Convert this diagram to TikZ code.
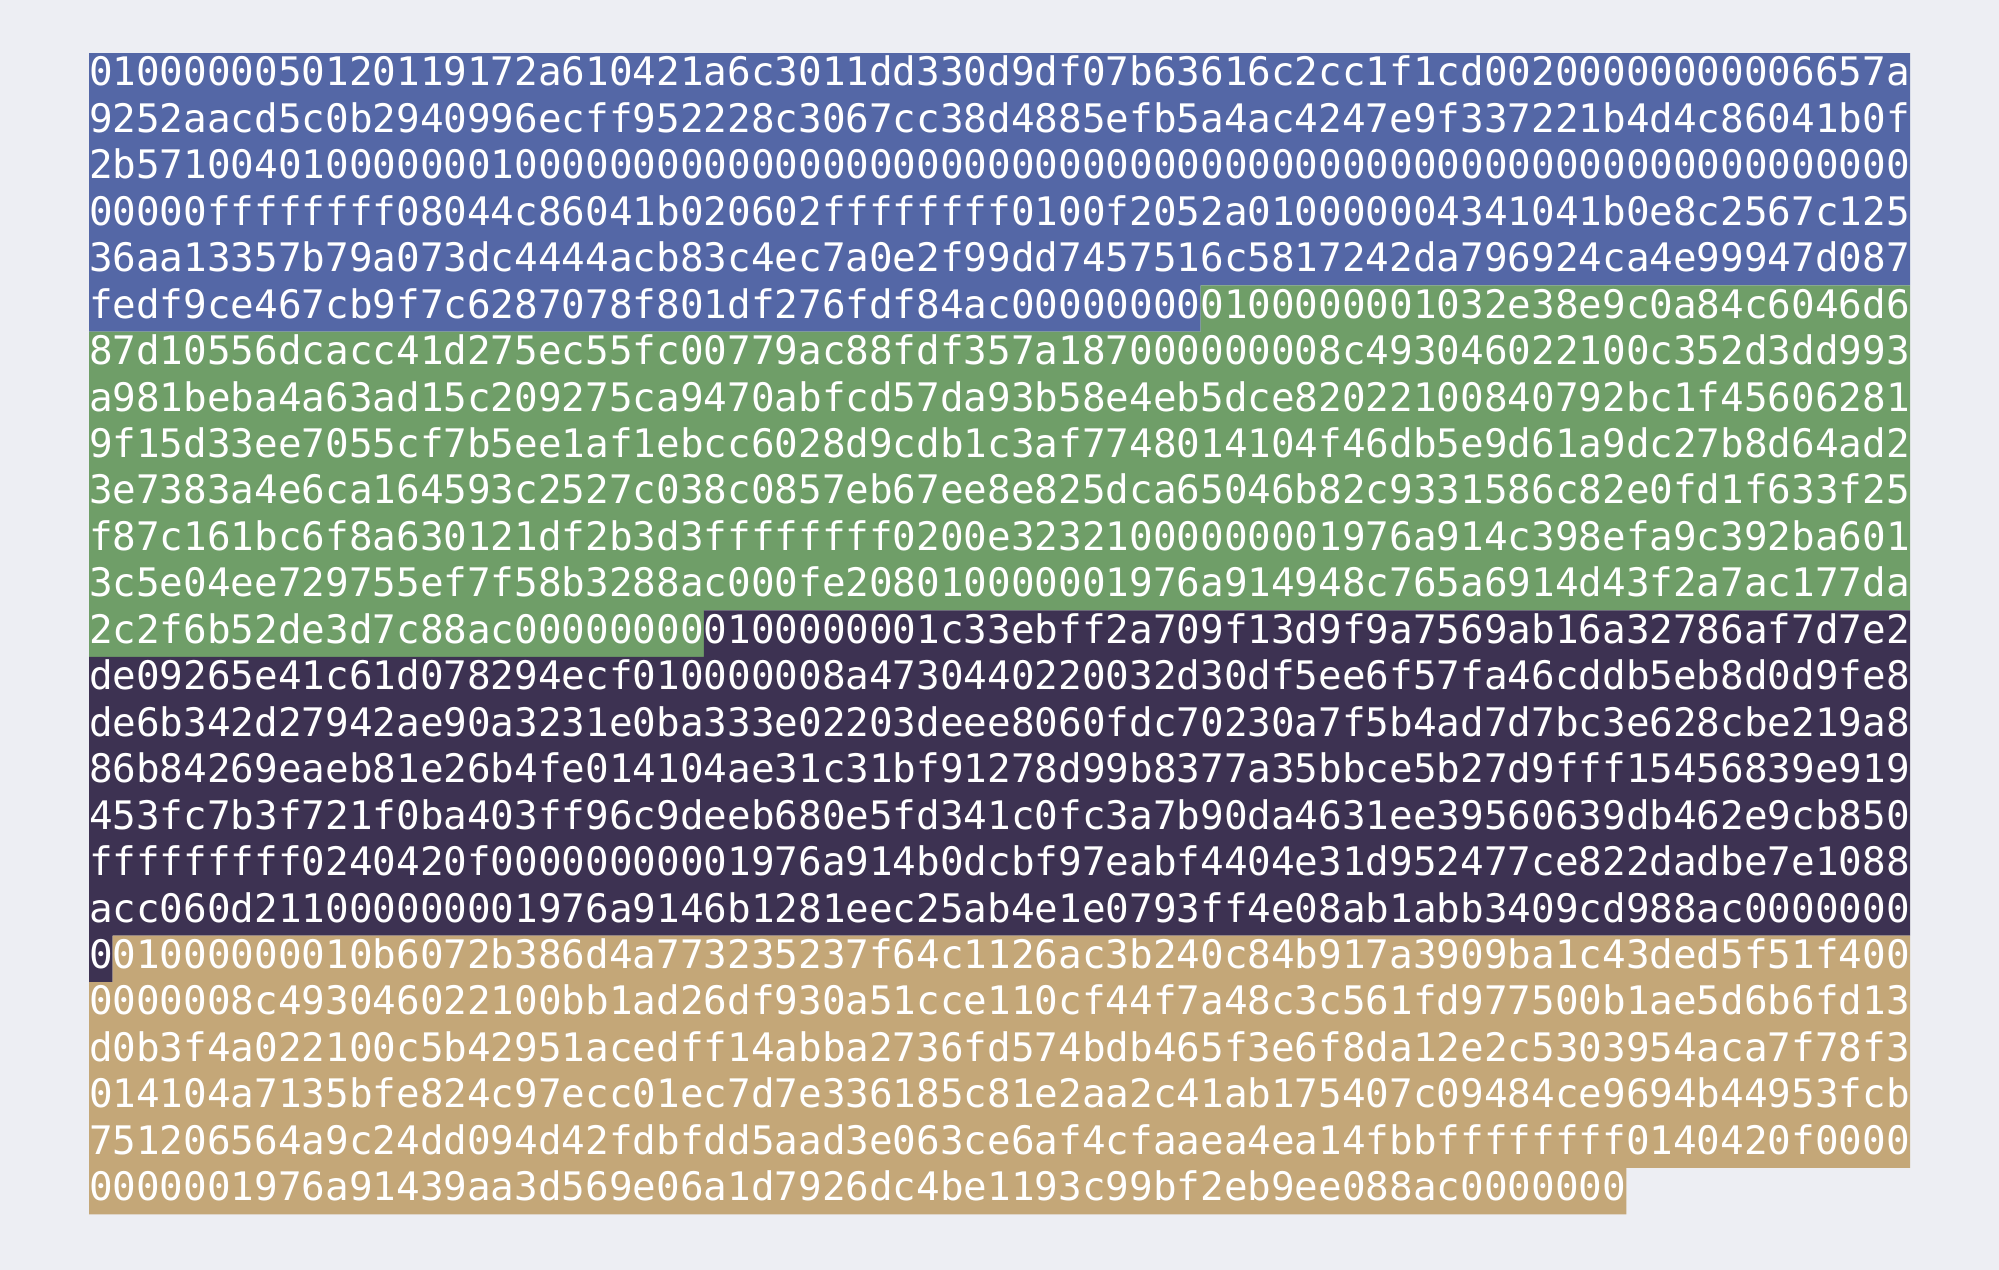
\documentclass[tikz,border=0pt]{standalone}
\usepackage{fontspec}
\newfontfamily\hexfam{DejaVu Sans Mono}
\definecolor{bgc}{HTML}{EDEEF3}
\definecolor{txa}{HTML}{5467A6}
\definecolor{txb}{HTML}{6F9E68}
\definecolor{txc}{HTML}{3D3252}
\definecolor{txd}{HTML}{C4A778}
\tikzset{
  hexline/.style={text=white, font={\hexfam\fontsize{19.64pt}{24pt}\selectfont}, inner sep=0pt, outer sep=0pt, anchor=base west},
}
\begin{document}
\begin{tikzpicture}[x=0.5pt,y=-0.5pt]
\useasboundingbox (0,0) rectangle (1999,1270);
\fill[bgc] (0,0) rectangle (1999,1270);
% band i: top = 53 + 46.45 (i-1); x(n) = 89 + 23.65 n
% tx1 blue
\fill[txa] (89,53) -- (1910.05,53) -- (1910.05,285.25) -- (1200.55,285.25) -- (1200.55,331.7) -- (89,331.7) -- cycle;
% tx2 green
\fill[txb] (1200.55,285.25) -- (1910.05,285.25) -- (1910.05,610.4) -- (703.9,610.4) -- (703.9,656.85) -- (89,656.85) -- (89,331.7) -- (1200.55,331.7) -- cycle;
% tx3 purple
\fill[txc] (703.9,610.4) -- (1910.05,610.4) -- (1910.05,935.55) -- (112.65,935.55) -- (112.65,982) -- (89,982) -- (89,656.85) -- (703.9,656.85) -- cycle;
% tx4 tan
\fill[txd] (112.65,935.55) -- (1910.05,935.55) -- (1910.05,1167.8) -- (1626.25,1167.8) -- (1626.25,1214.25) -- (89,1214.25) -- (89,982) -- (112.65,982) -- cycle;

\node[hexline] (l1) at (89,85.9) {01000000%
50120119172a610421a6c3011dd330d9df07b63616c2cc1f1cd002%
0000000000%
6657a};
\node[hexline] (l2) at (89,132.35) {9252aacd5c0b2940996ecff952228c3067cc38d4885efb5a4ac4247e9f3%
37221b4d%
4c86041b%
0f};
\node[hexline] (l3) at (89,178.8) {2b5710%
04%
01000000%
01%
0000000000%
0000000000%
0000000000%
0000000000%
0000000000%
000000000};
\node[hexline] (l4) at (89,225.25) {00000%
ffffffff%
08%
044c86041b020602%
ffffffff%
01%
00f2052a01000000%
43%
41%
041b0e8c2567c125};
\node[hexline] (l5) at (89,271.7) {36aa13357b79a073dc4444acb83c4ec7a0e2f99dd7457516c5817242da796924ca4e99947d087};
\node[hexline] (l6) at (89,318.15) {fedf9ce467cb9f7c6287078f801df276fdf84%
ac%
00000000%
01000000%
01%
032e38e9c0a84c6046d6};
\node[hexline] (l7) at (89,364.6) {87d10556dcacc41d275ec55fc00779ac88fdf357a187%
00000000%
8c%
49%
30460221%
00%
c352d3dd993};
\node[hexline] (l8) at (89,411.05) {a981beba4a63ad15c209275ca9470abfcd57da93b58e4eb5dce82%
022100%
840792bc1f45606281};
\node[hexline] (l9) at (89,457.5) {9f15d33ee7055cf7b5ee1af1ebcc6028d9cdb1c3af7748%
01%
41%
04f46db5e9d61a9dc27b8d64ad2};
\node[hexline] (l10) at (89,503.95) {3e7383a4e6ca164593c2527c038c0857eb67ee8e825dca65046b82c9331586c82e0fd1f633f25};
\node[hexline] (l11) at (89,550.4) {f87c161bc6f8a630121df2b3d3%
ffffffff%
02%
00e3232100000000%
19%
76a914%
c398efa9c392ba601};
\node[hexline] (l12) at (89,596.85) {3c5e04ee729755ef7f58b32%
88ac%
000fe20801000000%
19%
76a914%
948c765a6914d43f2a7ac177da};
\node[hexline] (l13) at (89,643.3) {2c2f6b52de3d7c%
88ac%
00000000%
01000000%
01%
c33ebff2a709f13d9f9a7569ab16a32786af7d7e2};
\node[hexline] (l14) at (89,689.75) {de09265e41c61d078294ecf%
01000000%
8a%
47%
30440220%
032d30df5ee6f57fa46cddb5eb8d0d9fe8};
\node[hexline] (l15) at (89,736.2) {de6b342d27942ae90a3231e0ba333e%
0220%
3deee8060fdc70230a7f5b4ad7d7bc3e628cbe219a8};
\node[hexline] (l16) at (89,782.65) {86b84269eaeb81e26b4fe%
01%
41%
04ae31c31bf91278d99b8377a35bbce5b27d9fff15456839e919};
\node[hexline] (l17) at (89,829.1) {453fc7b3f721f0ba403ff96c9deeb680e5fd341c0fc3a7b90da4631ee39560639db462e9cb850};
\node[hexline] (l18) at (89,875.55) {f%
ffffffff%
02%
40420f0000000000%
19%
76a914%
b0dcbf97eabf4404e31d952477ce822dadbe7e10%
88};
\node[hexline] (l19) at (89,922) {ac%
c060d21100000000%
19%
76a914%
6b1281eec25ab4e1e0793ff4e08ab1abb3409cd9%
88ac%
0000000};
\node[hexline] (l20) at (89,968.45) {0%
01000000%
01%
0b6072b386d4a773235237f64c1126ac3b240c84b917a3909ba1c43ded5f51f4%
00};
\node[hexline] (l21) at (89,1014.9) {000000%
8c%
49%
30460221%
00%
bb1ad26df930a51cce110cf44f7a48c3c561fd977500b1ae5d6b6fd13};
\node[hexline] (l22) at (89,1061.35) {d0b3f4a%
0221%
00%
c5b42951acedff14abba2736fd574bdb465f3e6f8da12e2c5303954aca7f78f3};
\node[hexline] (l23) at (89,1107.8) {01%
41%
04a7135bfe824c97ecc01ec7d7e336185c81e2aa2c41ab175407c09484ce9694b44953fcb};
\node[hexline] (l24) at (89,1154.25) {751206564a9c24dd094d42fdbfdd5aad3e063ce6af4cfaaea4ea14fbb%
ffffffff%
01%
40420f0000};
\node[hexline] (l25) at (89,1200.7) {000000%
19%
76a914%
39aa3d569e06a1d7926dc4be1193c99bf2eb9ee0%
88ac%
0000000};
\end{tikzpicture}
\end{document}
